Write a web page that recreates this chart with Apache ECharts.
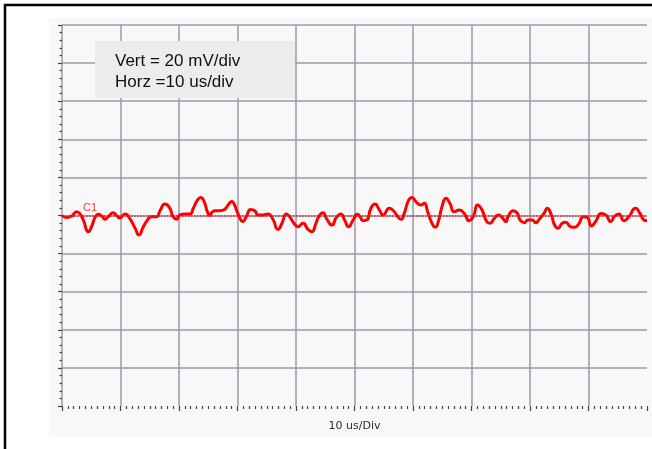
<!DOCTYPE html>
<html>
<head>
<meta charset="utf-8">
<script src="https://cdn.jsdelivr.net/npm/echarts@6/dist/echarts.min.js"></script>
<style>
  html, body { margin: 0; padding: 0; background: #fff; }
  #scope { width: 652px; height: 449px; }
</style>
</head>
<body>
<div id="scope"></div>
<script>
var myChart = echarts.init(document.getElementById('scope'));

var timeUs = [
  0.0, 0.8, 1.65, 2.5, 3.1, 3.65, 4.5, 5.05, 5.65, 6.2, 6.8, 7.35, 7.9, 8.75, 9.35, 9.9,
  10.75, 11.6, 12.5, 13.15, 13.9, 14.6, 15.3, 16.2, 16.75, 17.6, 18.35, 19.0, 19.6, 20.15,
  21.0, 21.9, 22.45, 23.1, 23.7, 24.3, 24.85, 25.3,
  25.5, 26.1, 26.95, 27.8, 28.4, 29.05, 29.5, 30.1, 30.95, 31.5, 32.25, 32.95, 33.5, 34.35,
  35.2, 36.05, 36.9, 37.6, 38.35, 38.9, 39.65, 40.35, 41.2, 42.05, 42.75, 43.3, 43.95, 44.6,
  45.2, 46.15, 46.9, 47.65, 48.3, 49.0, 49.75, 50.5,
  50.8, 51.5, 52.1, 52.8, 53.5, 54.25, 54.9, 55.95, 56.65, 57.4, 57.95, 58.5, 59.25, 59.85,
  60.5, 61.35, 61.95, 62.5, 63.25, 63.8, 64.4, 64.95, 65.65, 66.3, 67.05, 67.9, 68.75, 69.6,
  70.3, 71.05, 71.8, 72.6, 73.15, 73.9, 74.65, 75.35, 75.9,
  76.25, 77.15, 77.85, 78.3, 79.0, 79.65, 80.4, 80.95, 81.7, 82.4, 82.95, 83.65, 84.2, 84.8,
  85.5, 86.1, 86.95, 87.65, 88.4, 89.1, 89.8, 90.5, 91.2, 92.2, 92.95, 93.8, 94.45, 95.2,
  96.05, 96.9, 98.05, 98.8, 99.5, 100.0
];
var traceMv = [
  0.0, -1.0, -0.3, 2.0, 0.8, -2.4, -8.5, -5.9, -1.0, 0.6, -0.3, -2.0, -0.6, 1.5, -0.1, -1.3,
  0.8, -1.7, -6.7, -10.2, -5.9, -2.4, -0.6, -0.6, 2.5, 6.0, 4.3, -0.6, -2.0, 0.3,
  0.8, 0.8, 3.8, 7.8, 9.5, 7.3, 2.0, 0.0,
  1.1, 2.5, 2.5, 3.2, 5.5, 7.3, 5.5, 0.8, -3.2, -0.6, 3.2, 2.5, 0.3, 0.3,
  0.8, -2.0, -7.3, -4.1, 0.8, -0.6, -4.1, -5.9, -4.1, -7.3, -8.5, -5.0, -0.3, 1.5,
  -1.5, -5.0, -1.0, 0.8, -2.4, -5.9, -2.4, 0.6,
  0.0, -2.7, -2.4, 3.8, 6.0, 2.9, 0.3, 3.8, 2.5, -0.6, -2.0, 1.1, 8.1, 9.5,
  7.3, 5.5, 6.4, 2.0, -4.1, -6.2, -2.4, 4.6, 9.0, 6.4, 2.0, 2.9, 1.1, -2.7,
  -0.6, 5.5, 2.9, -3.2, -4.1, -1.5, 0.3, -1.5, -3.2,
  -0.6, 2.5, 1.1, -2.4, -3.8, -2.4, -2.4, -3.8, -1.5, 1.1, 3.8, 0.3, -5.0, -6.7,
  -4.1, -3.6, -5.9, -6.2, -4.1, -0.6, -1.0, -5.5, -3.2, 1.1, 0.3, -3.2, -0.3, 0.8,
  -2.7, -0.6, 3.8, 1.1, -2.4, -2.7
];
var infoLines = ['Vert = 20 mV/div', 'Horz =10 us/div'];
var xName = '10 us/Div';
var traceName = 'C1';

var gridColor = '#9a9ab0';
var tickColor = '#444';

option = {
    backgroundColor: '#ffffff',
    animation: false,
    graphic: [
        {   // outer frame
            type: 'rect',
            z: -20,
            shape: { x: 5, y: 5, width: 700, height: 500 },
            style: { fill: '#ffffff', stroke: '#000', lineWidth: 2.5 }
        },
        {   // light panel behind the plot
            type: 'rect',
            z: -10,
            shape: { x: 49, y: 18, width: 610, height: 419 },
            style: { fill: '#f8f8f8' }
        },
        {
            type: 'rect',
            z: 10,
            shape: { x: 95, y: 41, width: 200, height: 57 },
            style: { fill: '#ececec' }
        },
        {
            type: 'text',
            z: 11,
            left: 115,
            top: 51,
            style: {
                text: infoLines.join('\n'),
                font: '17px "Liberation Sans", Arial, sans-serif',
                lineHeight: 21,
                fill: '#111'
            }
        },
        {
            type: 'text',
            z: 11,
            left: 83,
            top: 202,
            style: {
                text: traceName,
                font: '11px "Liberation Sans", Arial, sans-serif',
                fill: '#f04040'
            }
        }
    ],
    grid: {
        show: false,
        left: 62,
        top: 25,
        right: 5,
        bottom: 43
    },
    xAxis: {
        type: 'value',
        min: 0,
        max: 100,
        interval: 10,
        name: xName,
        nameLocation: 'middle',
        nameGap: 15,
        nameTextStyle: {
            fontFamily: 'DejaVu Sans',
            fontSize: 11,
            color: '#2a2a40'
        },
        axisLine: { show: false, onZero: false },
        axisLabel: { show: false },
        axisTick: {
            show: true,
            length: 5,
            lineStyle: { color: tickColor, width: 1.2 }
        },
        minorTick: {
            show: true,
            splitNumber: 10,
            length: 3,
            lineStyle: { color: tickColor, width: 1.2 }
        },
        splitLine: {
            show: true,
            showMaxLine: false,
            lineStyle: { color: gridColor, width: 1.5 }
        }
    },
    yAxis: {
        type: 'value',
        min: -100,
        max: 100,
        interval: 20,
        axisLine: { show: false, onZero: false },
        axisLabel: { show: false },
        axisTick: {
            show: true,
            length: 4,
            lineStyle: { color: tickColor, width: 1.2 }
        },
        minorTick: {
            show: true,
            splitNumber: 5,
            length: 2.5,
            lineStyle: { color: tickColor, width: 1.2 }
        },
        splitLine: {
            show: true,
            showMinLine: false,
            lineStyle: { color: gridColor, width: 1.5 }
        }
    },
    series: [
        {
            name: traceName,
            type: 'line',
            smooth: 0.55,
            symbol: 'none',
            lineStyle: { color: '#ff0000', width: 3 },
            data: timeUs.map(function (t, i) { return [t, traceMv[i]]; }),
            markLine: {
                silent: true,
                symbol: 'none',
                label: { show: false },
                lineStyle: { color: '#e02020', type: 'dotted', width: 1.5 },
                data: [{ yAxis: 0 }]
            },
            z: 3
        }
    ]
};

myChart.setOption(option);
</script>
</body>
</html>
